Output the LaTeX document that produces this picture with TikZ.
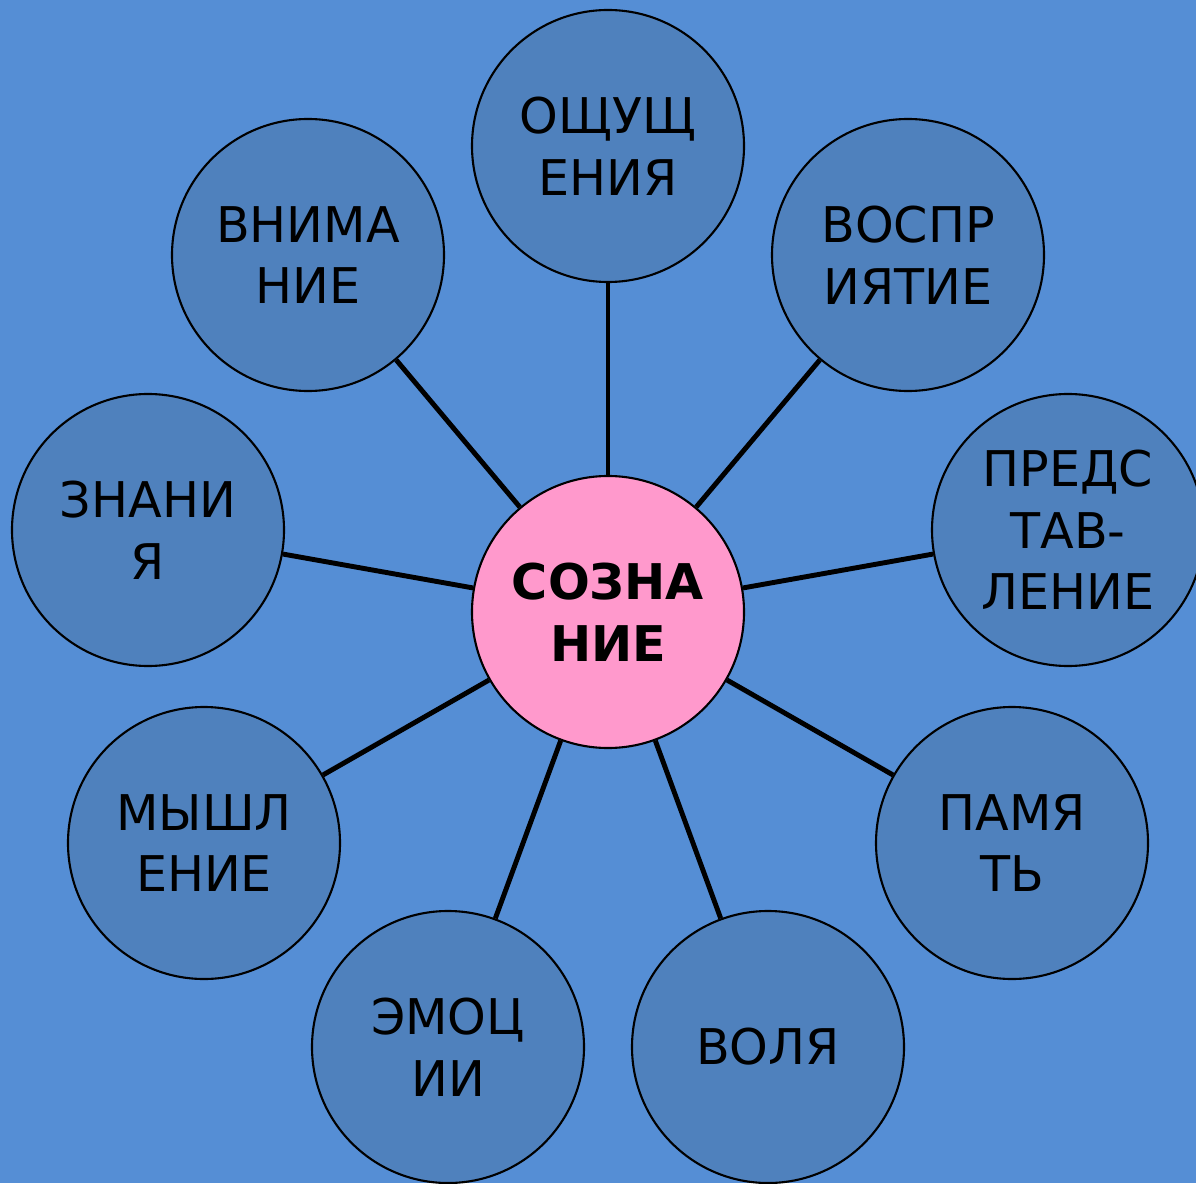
\documentclass[tikz,border=0pt]{standalone}
\usepackage{fontspec}
\setmainfont{DejaVu Sans}
\definecolor{bgblue}{HTML}{558ED5}
\definecolor{ballblue}{HTML}{4F81BD}
\definecolor{ballpink}{HTML}{FF99CC}
\begin{document}
\begin{tikzpicture}
    [every node/.style={circle,draw,line width=0.6pt,fill=ballblue,minimum size=2.72cm,inner sep=0pt,align=center,font=\fontsize{14}{17.5}\selectfont}]
    \useasboundingbox (0,0) rectangle (11.96,11.83);
    \fill[bgblue] (0,0) rectangle (11.96,11.83);

    \node[fill=ballpink,font=\fontsize{14}{17.5}\selectfont\bfseries] (c) at (6.08,5.71) {СОЗНА\\НИЕ};

    \node (n1) at (6.08,10.37) {ОЩУЩ\\ЕНИЯ};
    \node (n2) at (9.08,9.28) {ВОСПР\\ИЯТИЕ};
    \node (n3) at (10.68,6.53) {ПРЕДС\\ТАВ-\\ЛЕНИЕ};
    \node (n4) at (10.12,3.40) {ПАМЯ\\ТЬ};
    \node (n5) at (7.68,1.36) {ВОЛЯ};
    \node (n6) at (4.48,1.36) {ЭМОЦ\\ИИ};
    \node (n7) at (2.04,3.40) {МЫШЛ\\ЕНИЕ};
    \node (n8) at (1.48,6.53) {ЗНАНИ\\Я};
    \node (n9) at (3.08,9.28) {ВНИМА\\НИЕ};

    \draw[line width=1.4pt] (c) -- (n1);
    \draw[line width=1.4pt] (c) -- (n2);
    \draw[line width=1.4pt] (c) -- (n3);
    \draw[line width=1.4pt] (c) -- (n4);
    \draw[line width=1.4pt] (c) -- (n5);
    \draw[line width=1.4pt] (c) -- (n6);
    \draw[line width=1.4pt] (c) -- (n7);
    \draw[line width=1.4pt] (c) -- (n8);
    \draw[line width=1.4pt] (c) -- (n9);
  \end{tikzpicture}
\end{document}
